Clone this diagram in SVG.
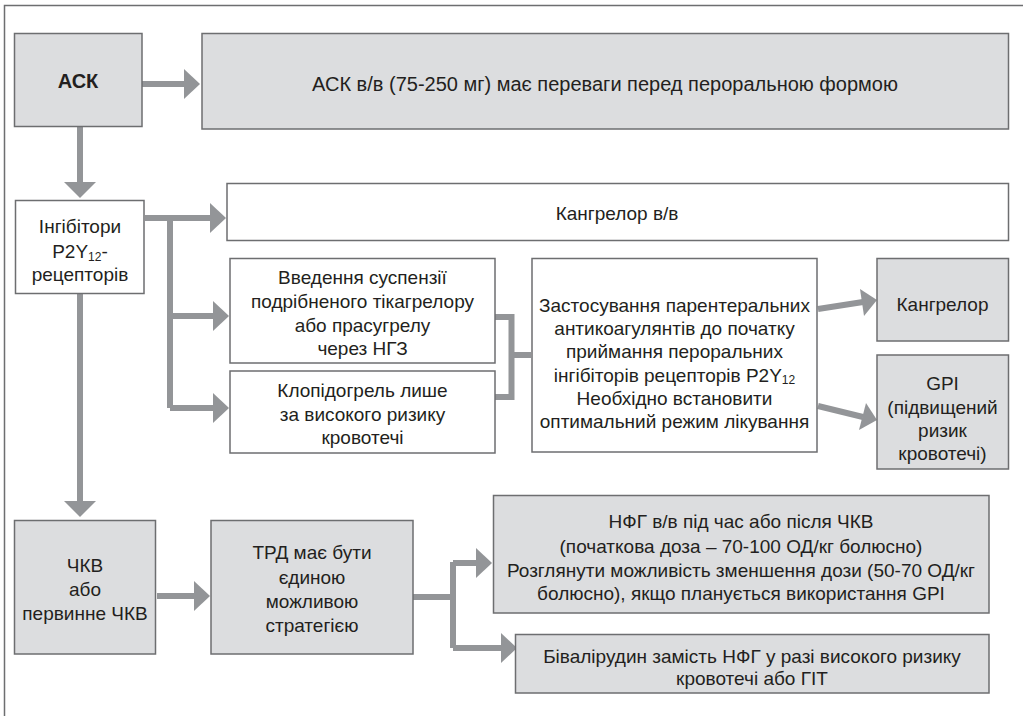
<svg xmlns="http://www.w3.org/2000/svg" width="1023" height="716" viewBox="0 0 1023 716">
<style>
.g{fill:#dcdddf;stroke:#6d6e70;stroke-width:1.5}
.w{fill:#ffffff;stroke:#6d6e70;stroke-width:1.5}
.t{font-family:"Liberation Sans","DejaVu Sans",sans-serif;font-size:19px;fill:#231f20;text-anchor:middle}
.b{font-weight:bold;font-size:20px}
.l{font-size:20px}
.c{fill:none;stroke:#939598;stroke-width:6}
.h{fill:#939598}
.f{fill:none;stroke:#6d6e70;stroke-width:1.5}
</style>
<rect width="1023" height="716" fill="#ffffff"/>
<path class="f" d="M1023,5.5 H4.5 V716"/>
<g id="connectors">
<path class="c" d="M142,84 H184"/><polygon class="h" points="184,69 200,84 184,99"/>
<path class="c" d="M80,127 V182"/><polygon class="h" points="64,182 80,198 96,182"/>
<path class="c" d="M145,218 H210 M170,218 V408 M170,316 H213 M170,408 H213"/>
<polygon class="h" points="210,203 226,218 210,233"/>
<polygon class="h" points="213,301 229,316 213,331"/>
<polygon class="h" points="213,393 229,408 213,423"/>
<path class="c" d="M495,317 H511.5 V397 H495 M511.5,355 H531"/>
<path class="c" d="M80,294 V501"/><polygon class="h" points="64,501 80,517 96,501"/>
<path class="c" d="M818,309 L863,302"/><polygon class="h" points="860,289 877,300 864,316"/>
<path class="c" d="M818,406 L863,417"/><polygon class="h" points="866,403 877,420 859,430"/>
<path class="c" d="M157,596 H194"/><polygon class="h" points="194,581 210,596 194,611"/>
<path class="c" d="M413,597 H453 M453,562 V648 M453,563 H476 M453,648 H501"/>
<polygon class="h" points="476,548 492,563 476,578"/>
<polygon class="h" points="501,633 517,648 501,663"/>
</g>
<g id="ask"><rect class="g" x="14.5" y="33.5" width="127.5" height="93"/><text class="t b" x="78" y="88">АСК</text></g>
<g id="ask-iv"><rect class="g" x="202" y="33.5" width="806.5" height="95.5"/><text class="t l" x="605" y="91">АСК в/в (75-250 мг) має переваги перед пероральною формою</text></g>
<g id="p2y12"><rect class="w" x="15.5" y="200.5" width="128.5" height="93"/>
<text class="t" x="80" y="233">Інгібітори</text>
<text class="t" x="80" y="258">P2Y<tspan font-size="12" dy="3">12</tspan><tspan dy="-3">-</tspan></text>
<text class="t" x="80" y="281">рецепторів</text></g>
<g id="kangrelor-iv"><rect class="w" x="227" y="183.5" width="781.5" height="57"/><text class="t" x="617" y="220">Кангрелор в/в</text></g>
<g id="suspension"><rect class="w" x="230" y="258.5" width="265" height="104.5"/>
<text class="t" x="362.5" y="284">Введення суспензії</text>
<text class="t" x="362.5" y="308">подрібненого тікагрелору</text>
<text class="t" x="362.5" y="332">або прасугрелу</text>
<text class="t" x="362.5" y="355">через НГЗ</text></g>
<g id="clopidogrel"><rect class="w" x="230" y="371" width="265" height="82"/>
<text class="t" x="362.5" y="397">Клопідогрель лише</text>
<text class="t" x="362.5" y="421">за високого ризику</text>
<text class="t" x="362.5" y="444">кровотечі</text></g>
<g id="parenteral"><rect class="w" x="532" y="258.5" width="285" height="193.5"/>
<text class="t" x="674.5" y="312">Застосування парентеральних</text>
<text class="t" x="674.5" y="335">антикоагулянтів до початку</text>
<text class="t" x="674.5" y="358">приймання пероральних</text>
<text class="t" x="674.5" y="382">інгібіторів рецепторів P2Y<tspan font-size="12" dy="2">12</tspan></text>
<text class="t" x="674.5" y="405">Необхідно встановити</text>
<text class="t" x="674.5" y="428">оптимальний режим лікування</text></g>
<g id="kangrelor"><rect class="g" x="877" y="258.5" width="131.5" height="82.5"/><text class="t" x="942.5" y="311">Кангрелор</text></g>
<g id="gpi"><rect class="g" x="877" y="355" width="131.5" height="114"/>
<text class="t" x="942.5" y="390">GPI</text>
<text class="t" x="942.5" y="414">(підвищений</text>
<text class="t" x="942.5" y="437">ризик</text>
<text class="t" x="942.5" y="460">кровотечі)</text></g>
<g id="pci"><rect class="g" x="14.5" y="520.5" width="141" height="133.5"/>
<text class="t" x="85" y="572">ЧКВ</text>
<text class="t" x="85" y="596">або</text>
<text class="t" x="85" y="620">первинне ЧКВ</text></g>
<g id="trd"><rect class="g" x="211" y="520.5" width="202" height="133.5"/>
<text class="t" x="312" y="559">ТРД має бути</text>
<text class="t" x="312" y="584">єдиною</text>
<text class="t" x="312" y="608">можливою</text>
<text class="t" x="312" y="632">стратегією</text></g>
<g id="nfg"><rect class="g" x="493.5" y="495.5" width="495.5" height="117.5"/>
<text class="t" x="741" y="528">НФГ в/в під час або після ЧКВ</text>
<text class="t" x="741" y="553">(початкова доза – 70-100 ОД/кг болюсно)</text>
<text class="t" x="741" y="577">Розглянути можливість зменшення дози (50-70 ОД/кг</text>
<text class="t" x="741" y="600">болюсно), якщо планується використання GPI</text></g>
<g id="bivalirudin"><rect class="g" x="515.5" y="634.5" width="473.5" height="58.5"/>
<text class="t" x="752" y="663">Бівалірудин замість НФГ у разі високого ризику</text>
<text class="t" x="752" y="685">кровотечі або ГІТ</text></g>
</svg>
